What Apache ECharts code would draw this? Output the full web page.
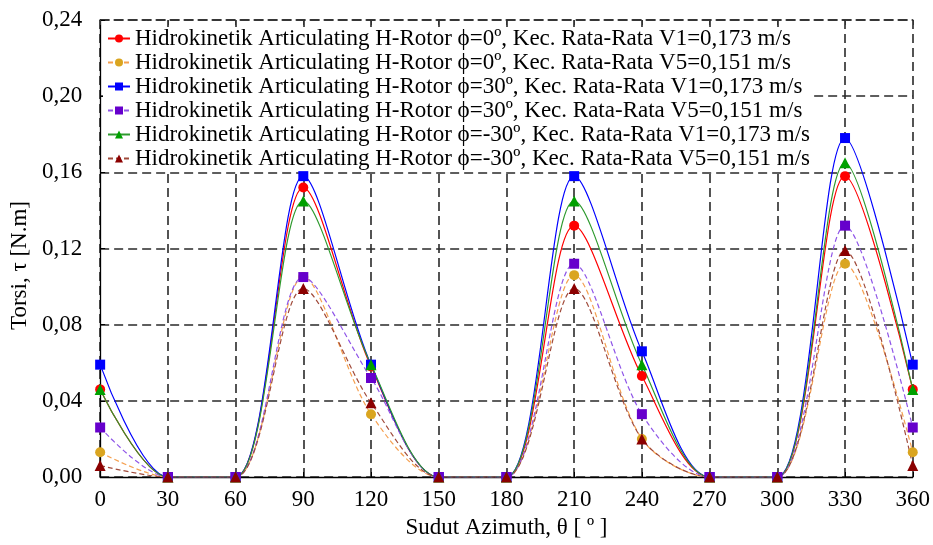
<!DOCTYPE html>
<html>
<head>
<meta charset="utf-8">
<script src="https://cdn.jsdelivr.net/npm/echarts@6/dist/echarts.min.js"></script>
<style>html,body{margin:0;padding:0;background:#fff}#c{width:933px;height:545px}</style>
</head>
<body>
<div id="c"></div>
<script>
var angles = [0, 30, 60, 90, 120, 150, 180, 210, 240, 270, 300, 330, 360];
var yTicks = [0, 0.04, 0.08, 0.12, 0.16, 0.20, 0.24];

var nameS1 = "Hidrokinetik Articulating H-Rotor \u03D5=0\u00BA, Kec. Rata-Rata V1=0,173 m/s";
var nameS2 = "Hidrokinetik Articulating H-Rotor \u03D5=0\u00BA, Kec. Rata-Rata V5=0,151 m/s";
var nameS3 = "Hidrokinetik Articulating H-Rotor \u03D5=30\u00BA, Kec. Rata-Rata V1=0,173 m/s";
var nameS4 = "Hidrokinetik Articulating H-Rotor \u03D5=30\u00BA, Kec. Rata-Rata V5=0,151 m/s";
var nameS5 = "Hidrokinetik Articulating H-Rotor \u03D5=-30\u00BA, Kec. Rata-Rata V1=0,173 m/s";
var nameS6 = "Hidrokinetik Articulating H-Rotor \u03D5=-30\u00BA, Kec. Rata-Rata V5=0,151 m/s";

var phi0V1   = [0.046, 0, 0, 0.152, 0.058, 0, 0, 0.132, 0.053, 0, 0, 0.158, 0.046];
var phi0V5   = [0.013, 0, 0, 0.105, 0.033, 0, 0, 0.106, 0.020, 0, 0, 0.112, 0.013];
var phi30V1  = [0.059, 0, 0, 0.158, 0.059, 0, 0, 0.158, 0.066, 0, 0, 0.178, 0.059];
var phi30V5  = [0.026, 0, 0, 0.105, 0.052, 0, 0, 0.112, 0.033, 0, 0, 0.132, 0.026];
var phim30V1 = [0.046, 0, 0, 0.145, 0.059, 0, 0, 0.145, 0.059, 0, 0, 0.165, 0.046];
var phim30V5 = [0.006, 0, 0, 0.099, 0.039, 0, 0, 0.099, 0.020, 0, 0, 0.119, 0.006];

function pairs(vals) {
  return angles.map(function (a, i) { return [a, vals[i]]; });
}

var FONT = "'Liberation Serif', 'Times New Roman', serif";

function mk(name, vals, symbol, size, markerColor, lineColor, dashed) {
  return {
    name: name,
    type: 'line',
    z: 3,
    xAxisIndex: 0,
    data: pairs(vals),
    smooth: 0.3,
    symbol: symbol,
    symbolSize: size,
    showAllSymbol: true,
    itemStyle: { color: markerColor },
    lineStyle: { color: lineColor, width: 1.2, type: dashed ? [5, 3] : 'solid' },
    emphasis: { disabled: true },
    animation: false
  };
}

var chart = echarts.init(document.getElementById('c'), null, { renderer: 'canvas' });
chart.setOption({
  backgroundColor: '#ffffff',
  animation: false,
  grid: { left: 99, right: 20, top: 20, bottom: 68, containLabel: false },
  legend: {
    orient: 'vertical',
    z: 1,
    left: 103,
    top: 27,
    itemGap: 1,
    itemWidth: 22,
    itemHeight: 10,
    padding: [0, 4, 0, 4],
    backgroundColor: '#ffffff',
    textStyle: { fontFamily: FONT, fontSize: 23, color: '#000' },
    data: [nameS1, nameS2, nameS3, nameS4, nameS5, nameS6]
  },
  xAxis: [{
    type: 'value',
    min: 0, max: 360, interval: 30,
    name: 'Sudut Azimuth, \u03B8 [ \u00BA ]',
    nameLocation: 'middle',
    nameGap: 39,
    nameTextStyle: { fontFamily: FONT, fontSize: 23, color: '#000' },
    axisLine: { show: true, onZero: false, lineStyle: { color: '#000', width: 1.3 } },
    axisTick: { show: true, inside: true, length: 5, lineStyle: { color: '#000' } },
    axisLabel: { fontFamily: FONT, fontSize: 23, color: '#000', margin: 11 },
    splitLine: { show: true, lineStyle: { color: '#2a2a2a', width: 1.6, type: [9, 5] } }
  }, {
    type: 'value',
    position: 'top',
    min: 0, max: 360, interval: 30,
    axisLine: { show: true, onZero: false, lineStyle: { color: '#2a2a2a', width: 1.6, type: [9, 5] } },
    axisTick: { show: true, inside: true, length: 5, lineStyle: { color: '#333' } },
    axisLabel: { show: false },
    splitLine: { show: false }
  }],
  yAxis: {
    type: 'value',
    min: 0, max: 0.24, interval: 0.04,
    name: 'Torsi, \u03C4 [N.m]',
    nameLocation: 'middle',
    nameGap: 65,
    nameTextStyle: { fontFamily: FONT, fontSize: 23, color: '#000', padding: [0, 34, 0, 0] },
    axisLine: { show: true, lineStyle: { color: '#000', width: 1.3 } },
    axisTick: { show: true, inside: true, length: 5, lineStyle: { color: '#000' } },
    axisLabel: {
      fontFamily: FONT, fontSize: 23, color: '#000', margin: 18,
      formatter: function (v) {
        var best = yTicks.reduce(function (p, t) { return Math.abs(t - v) < Math.abs(p - v) ? t : p; }, yTicks[0]);
        return best.toFixed(2).replace('.', ',');
      }
    },
    splitLine: { show: true, lineStyle: { color: '#2a2a2a', width: 1.6, type: [9, 5] } }
  },
  series: [
    mk(nameS1, phi0V1, 'circle', 10, '#FF0000', '#FF0000', false),
    mk(nameS2, phi0V5, 'circle', 10, '#DAA520', '#F5A050', true),
    mk(nameS3, phi30V1, 'rect', 10, '#0000FF', '#0000FF', false),
    mk(nameS4, phi30V5, 'rect', 10, '#6600CC', '#8F55E8', true),
    mk(nameS5, phim30V1, 'triangle', 11, '#00A000', '#2E9A2E', false),
    mk(nameS6, phim30V5, 'triangle', 11, '#8B0000', '#A04A3A', true)
  ]
});
</script>
</body>
</html>
